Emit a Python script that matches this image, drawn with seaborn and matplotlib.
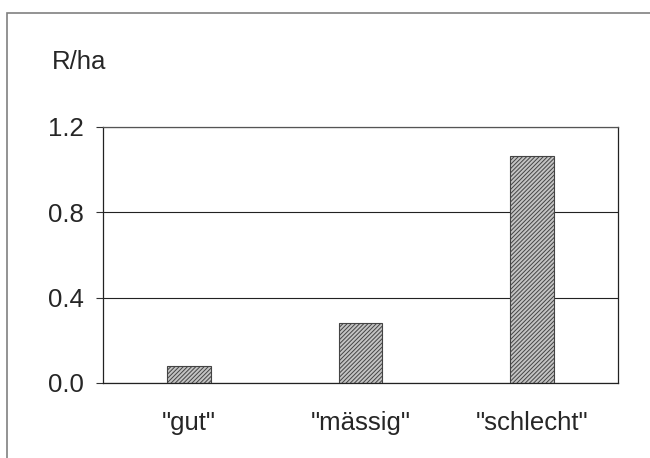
import matplotlib
matplotlib.use('Agg')
import matplotlib.pyplot as plt
import matplotlib.patches as mpatches
import seaborn as sns
import pandas as pd

categories = ['"gut"', '"mässig"', '"schlecht"']
values = [0.08, 0.28, 1.064]
yticks = [0.0, 0.4, 0.8, 1.2]

sns.set_style('white')
plt.rcParams['font.family'] = ['Liberation Sans', 'DejaVu Sans']
plt.rcParams['hatch.color'] = '#555555'
plt.rcParams['hatch.linewidth'] = 0.7

df = pd.DataFrame({'cat': categories, 'val': values})

fig = plt.figure(figsize=(6.5, 4.58), dpi=100)
ax = fig.add_axes([103 / 650, 1 - 383 / 458, 515 / 650, 256 / 458])

sns.barplot(x='cat', y='val', data=df, ax=ax, width=0.256, color='#c4c4c4',
            edgecolor='#444444', linewidth=0.8, saturation=1)
for p in ax.patches:
    p.set_hatch('////////')

ax.set_ylim(0, 1.2)
ax.set_xlim(-0.5, 2.5)
ax.set_yticks(yticks)
ax.set_yticklabels([f'{v:.1f}' for v in yticks], fontsize=18.5)
ax.set_xticks([0, 1, 2])
ax.set_xticklabels(categories, fontsize=18.5)
ax.set_xticks([-0.5, 0.5, 1.5, 2.5], minor=True)
ax.tick_params(axis='x', which='major', length=0, pad=20)
ax.tick_params(axis='x', which='minor', length=6, direction='out', color='#333333', width=0.8)
ax.tick_params(axis='y', length=5, direction='out', color='#333333', width=0.8, pad=9, left=True)
ax.yaxis.grid(True, color='#222222', linewidth=0.8)
ax.set_axisbelow(True)
ax.set_xlabel('')
ax.set_ylabel('')

for s in ['left', 'bottom', 'right', 'top']:
    ax.spines[s].set_color('#222222')
    ax.spines[s].set_linewidth(0.9)
    ax.spines[s].set_visible(True)
ax.spines['top'].set_color('#555555')

fig.text(52 / 650, 1 - 62 / 458, 'R/ha', fontsize=18.5, va='center', ha='left')

border = mpatches.Rectangle((7 / 650, -0.1), 1.2, 0.1 + 1 - 13 / 458, transform=fig.transFigure,
                            fill=False, edgecolor='#808080', linewidth=1.2, clip_on=False)
fig.patches.append(border)

fig.savefig('out.png', dpi=100)
